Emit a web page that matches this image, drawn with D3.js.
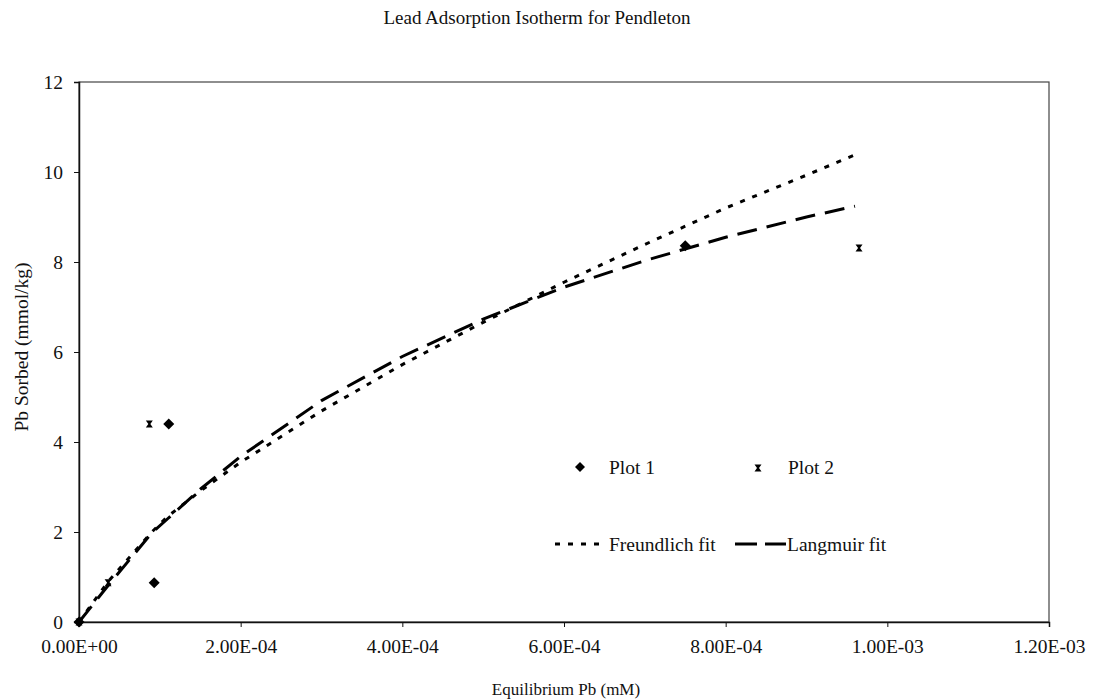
<!DOCTYPE html>
<html>
<head>
<meta charset="utf-8">
<script src="https://cdn.jsdelivr.net/npm/d3@7"></script>
<style>
  html, body { margin: 0; padding: 0; background: #fff; }
  svg { display: block; }
  svg text { font-family: 'Liberation Serif', Tinos, 'Times New Roman', 'DejaVu Serif', serif; fill: #111; }
</style>
</head>
<body>
<svg id="chart" width="1093" height="700"></svg>
<script>
// ---- Data ----
const title = "Lead Adsorption Isotherm for Pendleton";
const xTitle = "Equilibrium Pb (mM)";
const yTitle = "Pb Sorbed (mmol/kg)";
const xTicks = [0, 0.0002, 0.0004, 0.0006, 0.0008, 0.001, 0.0012];
const yTicks = [0, 2, 4, 6, 8, 10, 12];

const plot1X = [0, 0.000093, 0.000111, 0.00075];
const plot1Y = [0, 0.87, 4.40, 8.36];
const plot2X = [0, 0.000036, 0.000087, 0.000965];
const plot2Y = [0, 0.87, 4.40, 8.31];

const fitX = [0, 0.000036, 0.00009, 0.00011, 0.00015, 0.0002, 0.0003, 0.0004, 0.0005, 0.0006, 0.0007, 0.0008, 0.0009, 0.00096];
const freundlichY = [0, 0.90, 2.00, 2.35, 2.91, 3.55, 4.69, 5.72, 6.66, 7.55, 8.39, 9.20, 9.93, 10.38];
const langmuirY = [0, 0.81, 1.98, 2.30, 2.95, 3.68, 4.92, 5.90, 6.73, 7.44, 8.03, 8.55, 9.00, 9.24];

const legendItems = ["Plot 1", "Plot 2", "Freundlich fit", "Langmuir fit"];

// ---- Layout ----
const FONT = "'Liberation Serif', Tinos, 'Times New Roman', 'DejaVu Serif', serif";
const svg = d3.select("#chart");
const m = { left: 79, right: 1049, top: 82, bottom: 622 };

const x = d3.scaleLinear().domain([0, 0.0012]).range([m.left, m.right]);
const y = d3.scaleLinear().domain([0, 12]).range([m.bottom, m.top]);

const fmt = v => {
  if (v === 0) return "0.00E+00";
  const e = Math.floor(Math.log10(v) + 1e-9);
  const mant = v / Math.pow(10, e);
  const sign = e < 0 ? "-" : "+";
  return mant.toFixed(2) + "E" + sign + String(Math.abs(e)).padStart(2, "0");
};

// Plot frame
svg.append("rect")
  .attr("x", m.left).attr("y", m.top)
  .attr("width", m.right - m.left).attr("height", m.bottom - m.top)
  .attr("fill", "none").attr("stroke", "#444").attr("stroke-width", 1.2);

// Axes
const xAxis = d3.axisBottom(x).tickValues(xTicks).tickFormat(fmt).tickSize(5).tickPadding(12);
const gx = svg.append("g").attr("transform", `translate(0,${m.bottom})`).call(xAxis)
  .attr("font-family", FONT).attr("font-size", 19.5);
gx.select(".domain").attr("stroke", "#111").attr("stroke-width", 1.5);
gx.selectAll(".tick line").attr("stroke", "#111");
gx.selectAll(".tick text").attr("fill", "#111");

const yAxis = d3.axisLeft(y).tickValues(yTicks).tickFormat(d3.format("d")).tickSize(5).tickPadding(11);
const gy = svg.append("g").attr("transform", `translate(${m.left},0)`).call(yAxis)
  .attr("font-family", FONT).attr("font-size", 19.5);
gy.select(".domain").attr("stroke", "#111").attr("stroke-width", 1.5);
gy.selectAll(".tick line").attr("stroke", "#111");
gy.selectAll(".tick text").attr("fill", "#111");

// Titles
svg.append("text").attr("x", 537).attr("y", 24).attr("text-anchor", "middle")
  .attr("font-family", FONT).attr("font-size", 19).text(title);
svg.append("text").attr("x", 566).attr("y", 695).attr("text-anchor", "middle")
  .attr("font-family", FONT).attr("font-size", 17).text(xTitle);
svg.append("text").attr("transform", "translate(28,347) rotate(-90)").attr("text-anchor", "middle")
  .attr("font-family", FONT).attr("font-size", 19.5).text(yTitle);

// Fit lines
const fitPts = (ys) => fitX.map((v, i) => [v, ys[i]]);
const line = d3.line().x(d => x(d[0])).y(d => y(d[1]));

svg.append("path").datum(fitPts(freundlichY))
  .attr("d", line).attr("fill", "none").attr("stroke", "#000")
  .attr("stroke-width", 3).attr("stroke-dasharray", "5,8");

svg.append("path").datum(fitPts(langmuirY))
  .attr("d", line).attr("fill", "none").attr("stroke", "#000")
  .attr("stroke-width", 3).attr("stroke-dasharray", "20,10");

// Markers
const diamond = (cx, cy, s) => `M${cx},${cy - s}L${cx + s},${cy}L${cx},${cy + s}L${cx - s},${cy}Z`;
const hourglass = (cx, cy, w, h) =>
  `M${cx - w},${cy - h}L${cx + w},${cy - h}L${cx + 1},${cy}L${cx + w},${cy + h}L${cx - w},${cy + h}L${cx - 1},${cy}Z`;

svg.append("g").selectAll("path").data(plot1X.map((v, i) => [v, plot1Y[i]]))
  .join("path").attr("d", d => diamond(x(d[0]), y(d[1]), 5.5)).attr("fill", "#000");

svg.append("g").selectAll("path").data(plot2X.map((v, i) => [v, plot2Y[i]]))
  .join("path").attr("d", d => hourglass(x(d[0]), y(d[1]), 3.5, 3.5)).attr("fill", "#000");

// Legend
const lg = svg.append("g").attr("font-family", FONT).attr("font-size", 19.5);
lg.append("path").attr("d", diamond(580, 467, 5)).attr("fill", "#000");
lg.append("text").attr("x", 609).attr("y", 474).text(legendItems[0]);
lg.append("path").attr("d", hourglass(758, 468, 3.5, 3.5)).attr("fill", "#000");
lg.append("text").attr("x", 788).attr("y", 474).text(legendItems[1]);

lg.append("line").attr("x1", 555).attr("x2", 602).attr("y1", 544).attr("y2", 544)
  .attr("stroke", "#000").attr("stroke-width", 3).attr("stroke-dasharray", "5,8");
lg.append("text").attr("x", 609).attr("y", 551).text(legendItems[2]);
lg.append("line").attr("x1", 735).attr("x2", 786).attr("y1", 544).attr("y2", 544)
  .attr("stroke", "#000").attr("stroke-width", 3).attr("stroke-dasharray", "22,8");
lg.append("text").attr("x", 787).attr("y", 551).text(legendItems[3]);
</script>
</body>
</html>
